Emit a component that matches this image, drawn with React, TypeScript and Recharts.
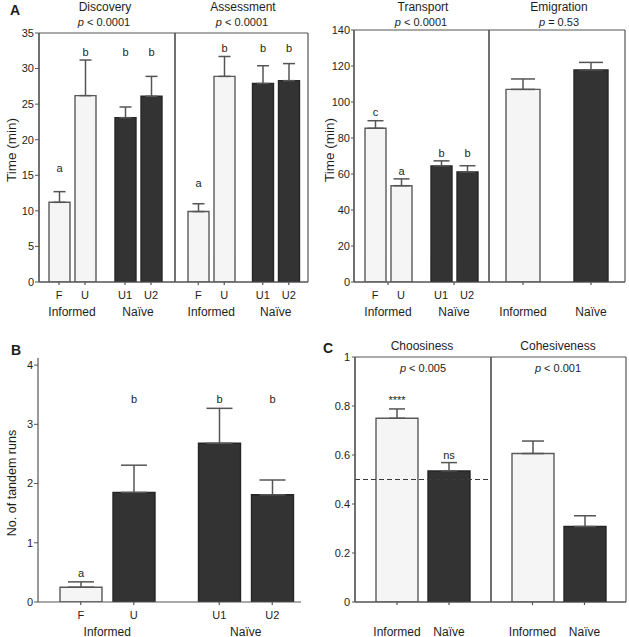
import React from "react";
import {
  BarChart,
  Bar,
  XAxis,
  YAxis,
  ErrorBar,
  Cell,
  LabelList,
  CartesianGrid,
  ReferenceLine,
} from "recharts";

const FONT = "'Liberation Sans', Arial, Helvetica, sans-serif";
const LIGHT = "#f4f5f4";
const DARK = "#333333";
const EDGE_LIGHT = "#5a5a5a";
const EDGE_DARK = "#262626";
const AXIS = "#555555";
const INK = "#1e1e1e";

// ---- Panel A: time per phase (min) ----
const groupsA = ["Informed", "Naïve"];
const subsA = [["F", "U"], ["U1", "U2"]];

const discoveryMean = [11.2, 26.2, 23.1, 26.1];
const discoveryUpper = [12.7, 31.2, 24.6, 28.9];
const discoveryLetters = ["a", "b", "b", "b"];
const discoveryLetterAt = [15.4, 31.8, 31.8, 31.8];

const assessmentMean = [9.9, 28.9, 27.9, 28.3];
const assessmentUpper = [11.0, 31.7, 30.4, 30.7];
const assessmentLetters = ["a", "b", "b", "b"];
const assessmentLetterAt = [13.3, 32.3, 32.3, 32.3];

const timeTicksLeft = [0, 5, 10, 15, 20, 25, 30, 35];

const transportMean = [85.4, 53.5, 64.5, 61.1];
const transportUpper = [89.6, 57.3, 67.3, 64.6];
const transportLetters = ["c", "a", "b", "b"];
const transportLetterAt = [92, 59.5, 69.7, 69.7];

const emigrationGroups = ["Informed", "Naïve"];
const emigrationMean = [107, 117.8];
const emigrationUpper = [112.8, 122];

const timeTicksRight = [0, 20, 40, 60, 80, 100, 120, 140];

// ---- Panel B: tandem runs ----
const groupsB = ["Informed", "Naïve"];
const subsB = [["F", "U"], ["U1", "U2"]];
const tandemMean = [0.25, 1.85, 2.68, 1.81];
const tandemUpper = [0.34, 2.31, 3.27, 2.06];
const tandemLetters = ["a", "b", "b", "b"];
const tandemLetterAt = [0.43, 3.36, 3.36, 3.36];
const tandemTicks = [0, 1, 2, 3, 4];
const tandemAxisMax = 4.12;

// ---- Panel C: choosiness / cohesiveness ----
const colonyTypes = ["Informed", "Naïve"];
const choosinessMean = [0.75, 0.535];
const choosinessUpper = [0.788, 0.569];
const choosinessMarks = ["****", "ns"];
const choosinessMarkAt = [0.808, 0.583];
const cohesivenessMean = [0.606, 0.308];
const cohesivenessUpper = [0.657, 0.352];
const chanceLevel = 0.5;
const fractionTicks = [0, 0.2, 0.4, 0.6, 0.8, 1];

type Row = Record<string, any>;

function makeRows(
  groups: string[],
  per: number,
  mean: number[],
  upper: number[],
  marks?: string[],
  markAt?: number[]
): Row[] {
  return groups.map((g, gi) => {
    const row: Row = { group: g };
    for (let s = 0; s < per; s++) {
      const i = gi * per + s;
      row[`v${s}`] = mean[i];
      row[`e${s}`] = [0, upper[i] - mean[i]];
      if (marks && markAt) {
        row[`m${s}`] = marks[i];
        row[`h${s}`] = markAt[i];
      }
    }
    return row;
  });
}

interface SubChartProps {
  rows: Row[];
  per: number;
  shades: string[];
  plot: { x: number; y: number; w: number; h: number };
  yWidth: number;
  yTick?: [number, number];
  domain: [number, number];
  ticks: number[];
  pad: { left: number; right: number };
  barSize: number;
  barGap: number;
  cap: number;
  tickMode: "bars" | "groups";
  frame: boolean;
  barLabels?: string[][];
  barLabelRow?: number;
  groupLabels?: boolean;
  refY?: number;
  marks?: boolean;
}

function SubChart(props: SubChartProps) {
  const {
    rows, per, shades, plot, yWidth, domain, ticks, pad, barSize, barGap, cap,
    tickMode, frame, barLabels, barLabelRow = 17, groupLabels, refY, marks,
  } = props;
  const [tSize, tMargin] = props.yTick ?? [4, 1];
  const mt = 8;
  const ml = yWidth > 0 ? 0 : 2;
  const mr = 3;
  const xh = 44;
  const width = ml + yWidth + plot.w + mr;
  const height = mt + plot.h + xh;
  const left = ml + yWidth;
  const axisY = mt + plot.h;
  const step = barSize + barGap;
  const offs = Array.from({ length: per }, (_, k) => (k - (per - 1) / 2) * step);

  const renderTick = (p: any) => {
    const cx = p.x;
    const gi = p.index ?? p.payload?.index ?? 0;
    const marksAt = tickMode === "bars" ? offs : [0];
    return (
      <g>
        {marksAt.map((o, k) => (
          <line key={k} x1={cx + o} x2={cx + o} y1={axisY} y2={axisY + 3} stroke={AXIS} strokeWidth={1.2} />
        ))}
        {barLabels &&
          offs.map((o, k) => (
            <text key={`b${k}`} x={cx + o} y={axisY + barLabelRow} textAnchor="middle"
              fontSize={barLabelRow > 25 ? 12 : 11} fontFamily={FONT} style={{ fill: INK }}>
              {barLabels[gi]?.[k]}
            </text>
          ))}
        {groupLabels && (
          <text x={cx} y={axisY + 33.5} textAnchor="middle" fontSize={12} fontFamily={FONT} style={{ fill: INK }}>
            {rows[gi]?.group}
          </text>
        )}
      </g>
    );
  };

  const markRenderer = (s: number) => (p: any) => {
    const vb = p.viewBox ?? p;
    const row = rows[p.index ?? 0];
    if (!row) return null;
    const v = row[`v${s}`];
    const lvl = row[`h${s}`];
    const bottom = vb.y + vb.height;
    const y = bottom - (lvl * vb.height) / v;
    return (
      <text x={vb.x + vb.width / 2} y={y} textAnchor="middle" fontSize={11} fontFamily={FONT}
        style={{ fill: INK, stroke: "none" }}>
        {p.value}
      </text>
    );
  };

  return (
    <div style={{ position: "absolute", left: plot.x - left, top: plot.y - mt }}>
      <BarChart
        width={width}
        height={height}
        data={rows}
        margin={{ top: mt, right: mr, bottom: 0, left: ml }}
        barGap={barGap}
      >
        {frame && (
          <CartesianGrid
            horizontalPoints={[mt, axisY]}
            verticalPoints={[left, left + plot.w]}
            stroke={AXIS}
            strokeWidth={1.2}
          />
        )}
        <XAxis
          dataKey="group"
          type="category"
          height={xh}
          padding={pad}
          interval={0}
          axisLine={{ stroke: AXIS, strokeWidth: 1.2 }}
          tickLine={false}
          tick={renderTick}
        />
        <YAxis
          type="number"
          domain={domain}
          ticks={ticks}
          interval={0}
          allowDataOverflow
          hide={yWidth === 0}
          width={yWidth}
          tickSize={tSize}
          tickMargin={tMargin}
          axisLine={{ stroke: AXIS, strokeWidth: 1.2 }}
          tickLine={{ stroke: AXIS }}
          tick={{ fontSize: 11, fill: INK, fontFamily: FONT }}
        />
        {refY !== undefined && (
          <ReferenceLine y={refY} stroke="#3a3a3a" strokeWidth={1.1} strokeDasharray="5 3" />
        )}
        {offs.map((_, s) => (
          <Bar key={s} dataKey={`v${s}`} barSize={barSize} isAnimationActive={false} strokeWidth={1.4}>
            {rows.map((_, gi) => {
              const fill = shades[gi * per + s];
              return <Cell key={gi} fill={fill} stroke={fill === DARK ? EDGE_DARK : EDGE_LIGHT} />;
            })}
            <ErrorBar dataKey={`e${s}`} width={cap} stroke={AXIS} strokeWidth={1.5} direction="y" />
            {marks && <LabelList dataKey={`m${s}`} content={markRenderer(s)} />}
          </Bar>
        ))}
      </BarChart>
    </div>
  );
}

const P = ({ rest }: { rest: string }) => (
  <>
    <tspan fontStyle="italic">p</tspan>
    {rest}
  </>
);

export default function App() {
  const discovery = makeRows(groupsA, 2, discoveryMean, discoveryUpper, discoveryLetters, discoveryLetterAt);
  const assessment = makeRows(groupsA, 2, assessmentMean, assessmentUpper, assessmentLetters, assessmentLetterAt);
  const transport = makeRows(groupsA, 2, transportMean, transportUpper, transportLetters, transportLetterAt);
  const emigration = makeRows(emigrationGroups, 1, emigrationMean, emigrationUpper);
  const tandem = makeRows(groupsB, 2, tandemMean, tandemUpper, tandemLetters, tandemLetterAt);
  const choosiness = makeRows(["Choosiness"], 2, choosinessMean, choosinessUpper, choosinessMarks, choosinessMarkAt);
  const cohesiveness = makeRows(["Cohesiveness"], 2, cohesivenessMean, cohesivenessUpper);

  const split = [LIGHT, LIGHT, DARK, DARK];

  return (
    <div style={{ position: "absolute", left: 0, top: 0, width: 629, height: 637, background: "#fff", fontFamily: FONT }}>
      <SubChart rows={discovery} per={2} shades={split} plot={{ x: 39, y: 33, w: 136, h: 249 }}
        yWidth={39} domain={[0, 35]} ticks={timeTicksLeft} pad={{ left: 0, right: 4 }}
        barSize={21} barGap={5} cap={6} tickMode="bars" frame barLabels={subsA} groupLabels marks />
      <SubChart rows={assessment} per={2} shades={split} plot={{ x: 175, y: 33, w: 133, h: 249 }}
        yWidth={0} domain={[0, 35]} ticks={timeTicksLeft} pad={{ left: 4, right: 0 }}
        barSize={21} barGap={5} cap={6} tickMode="bars" frame barLabels={subsA} groupLabels marks />
      <SubChart rows={transport} per={2} shades={split} plot={{ x: 354, y: 30, w: 135, h: 252 }}
        yWidth={35} yTick={[3, 1]} domain={[0, 140]} ticks={timeTicksRight} pad={{ left: 1, right: 2 }}
        barSize={21} barGap={5} cap={8} tickMode="groups" frame barLabels={subsA} groupLabels marks />
      <SubChart rows={emigration} per={1} shades={[LIGHT, DARK]} plot={{ x: 489, y: 30, w: 136, h: 252 }}
        yWidth={0} domain={[0, 140]} ticks={timeTicksRight} pad={{ left: 0, right: 0 }}
        barSize={34} barGap={0} cap={12} tickMode="groups" frame groupLabels />
      <SubChart rows={tandem} per={2} shades={[LIGHT, DARK, DARK, DARK]} plot={{ x: 38, y: 358, w: 263, h: 244 }}
        yWidth={38} domain={[0, tandemAxisMax]} ticks={tandemTicks} pad={{ left: 0, right: -14 }}
        barSize={42} barGap={11} cap={13} tickMode="bars" frame={false} barLabels={subsB} groupLabels marks />
      <SubChart rows={choosiness} per={2} shades={[LIGHT, DARK]} plot={{ x: 355, y: 357, w: 136, h: 245 }}
        yWidth={35} yTick={[3, 2]} domain={[0, 1]} ticks={fractionTicks} pad={{ left: 0, right: 0 }}
        barSize={42} barGap={10} cap={8} tickMode="bars" frame barLabels={[colonyTypes]} barLabelRow={33.5}
        refY={chanceLevel} marks />
      <SubChart rows={cohesiveness} per={2} shades={[LIGHT, DARK]} plot={{ x: 491, y: 357, w: 135, h: 245 }}
        yWidth={0} domain={[0, 1]} ticks={fractionTicks} pad={{ left: 0, right: 0 }}
        barSize={42} barGap={10} cap={11} tickMode="bars" frame barLabels={[colonyTypes]} barLabelRow={33.5} />

      <svg width={629} height={637} style={{ position: "absolute", left: 0, top: 0, pointerEvents: "none" }}
        fontFamily={FONT} fill={INK}>
        <text x={10} y={15} fontSize={14} fontWeight="bold">A</text>
        <text x={11} y={355} fontSize={14} fontWeight="bold">B</text>
        <text x={323} y={353} fontSize={14} fontWeight="bold">C</text>

        <g fontSize={12} textAnchor="middle">
          <text x={105} y={11}>Discovery</text>
          <text x={243} y={11}>Assessment</text>
          <text x={423} y={11}>Transport</text>
          <text x={559} y={11}>Emigration</text>
          <text x={422} y={350}>Choosiness</text>
          <text x={558} y={350}>Cohesiveness</text>
        </g>
        <g fontSize={11} textAnchor="middle">
          <text x={104} y={26}><P rest=" < 0.0001" /></text>
          <text x={242} y={26}><P rest=" < 0.0001" /></text>
          <text x={421} y={26}><P rest=" < 0.0001" /></text>
          <text x={559} y={26}><P rest=" = 0.53" /></text>
          <text x={423} y={372}><P rest=" < 0.005" /></text>
          <text x={558} y={372}><P rest=" < 0.001" /></text>
        </g>
        <g fontSize={13.5} textAnchor="middle" dominantBaseline="central">
          <text transform="translate(11.5,150) rotate(-90)">Time (min)</text>
          <text transform="translate(329,150) rotate(-90)">Time (min)</text>
          <text transform="translate(11.5,483) rotate(-90)" fontSize={12.5}>No. of tandem runs</text>
        </g>
      </svg>
    </div>
  );
}
